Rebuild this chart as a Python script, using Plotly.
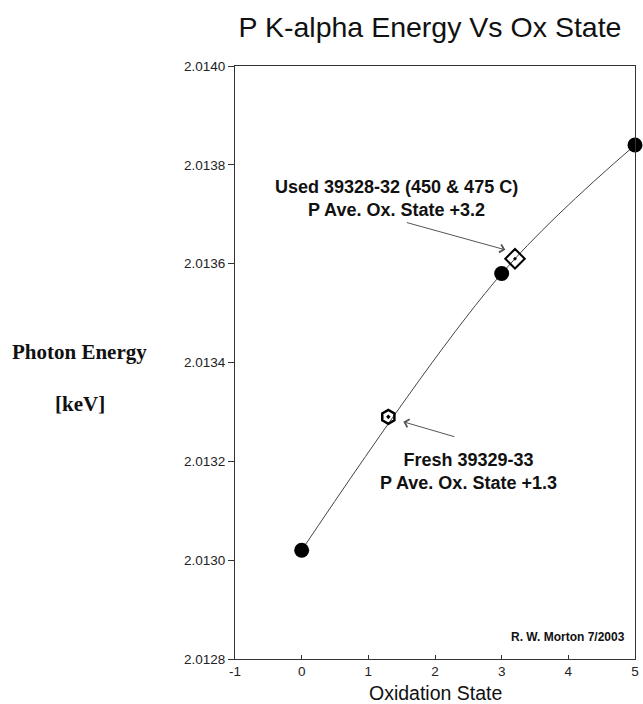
import plotly.graph_objects as go

# Data
ox_states = [0, 3, 5]
energies = [2.01302, 2.01358, 2.01384]
used_ox = [3.2]
used_energy = [2.01361]
fresh_ox = [1.3]
fresh_energy = [2.01329]
x_ticks = [-1, 0, 1, 2, 3, 4, 5]
y_ticks = [2.0128, 2.0130, 2.0132, 2.0134, 2.0136, 2.0138, 2.0140]

fig = go.Figure()
fig.add_trace(go.Scatter(x=ox_states, y=energies, mode="lines",
                         line=dict(color="#444", width=1, shape="spline", smoothing=1.0),
                         hoverinfo="skip", showlegend=False, cliponaxis=False))
fig.add_trace(go.Scatter(x=ox_states, y=energies, mode="markers",
                         marker=dict(symbol="circle", size=15, color="black"),
                         showlegend=False, cliponaxis=False))
fig.add_trace(go.Scatter(x=used_ox, y=used_energy, mode="markers",
                         marker=dict(symbol="diamond-open-dot", size=15, color="black",
                                     line=dict(width=2, color="black")),
                         showlegend=False))
fig.add_trace(go.Scatter(x=fresh_ox, y=fresh_energy, mode="markers",
                         marker=dict(symbol="hexagon-open-dot", size=14, color="black",
                                     line=dict(width=2.5, color="black")),
                         showlegend=False))

SANS = "Liberation Sans, Arial"
SERIF = "Liberation Serif, Times New Roman"
ann = []
# arrows
ann.append(dict(x=3.055, y=2.013628, ax=1.555, ay=2.013684, xref="x", yref="y",
                axref="x", ayref="y", text="", showarrow=True, arrowhead=4,
                arrowsize=1.6, arrowwidth=1, arrowcolor="#555"))
ann.append(dict(x=1.525, y=2.013280, ax=2.312, ay=2.013249, xref="x", yref="y",
                axref="x", ayref="y", text="", showarrow=True, arrowhead=4,
                arrowsize=1.6, arrowwidth=1, arrowcolor="#555"))
ann.append(dict(x=398, y=199, xref="paper", yref="paper", showarrow=False,
                text="<b>Used 39328-32 (450 &amp; 475 C)<br>P Ave. Ox. State +3.2</b>",
                font=dict(family=SANS, size=18, color="#111"), align="center"))
ann.append(dict(x=471, y=471, xref="paper", yref="paper", showarrow=False,
                text="<b>Fresh 39329-33<br>P Ave. Ox. State +1.3</b>",
                font=dict(family=SANS, size=18, color="#111"), align="center"))
ann.append(dict(x=571, y=637, xref="paper", yref="paper", showarrow=False,
                text="<b>R. W. Morton 7/2003</b>",
                font=dict(family=SANS, size=12, color="#111")))
ann.append(dict(x=78, y=352, xref="paper", yref="paper", showarrow=False,
                text="<b>Photon Energy</b>",
                font=dict(family=SERIF, size=21, color="#111")))
ann.append(dict(x=78, y=404, xref="paper", yref="paper", showarrow=False,
                text="<b>[keV]</b>",
                font=dict(family=SERIF, size=21, color="#111")))
ann.append(dict(x=437, y=693, xref="paper", yref="paper", showarrow=False,
                text="Oxidation State",
                font=dict(family=SANS, size=19.5, color="#111")))

# convert pixel coords (from top-left) to paper fractions
W, H = 643, 704
L, R, T, B = 235, 4, 66, 45
pw, ph = W - L - R, H - T - B
for a in ann:
    if a["xref"] == "paper":
        a["x"] = (a["x"] - L) / pw
        a["y"] = ((H - a["y"]) - B) / ph
        a["xanchor"] = "center"
        a["yanchor"] = "middle"

fig.update_layout(
    width=W, height=H,
    margin=dict(l=L, r=R, t=T, b=B),
    paper_bgcolor="white", plot_bgcolor="white",
    title=dict(text="P K-alpha Energy Vs Ox State", x=430 / W, xanchor="center",
               y=1 - 27 / H, yanchor="middle",
               font=dict(family=SANS, size=28.5, color="#111")),
    annotations=ann,
    xaxis=dict(range=[-1, 5], tickvals=x_ticks, ticktext=[str(v) for v in x_ticks],
               showgrid=False, zeroline=False, showline=True, linecolor="#333",
               linewidth=1, mirror=True, ticks="inside", ticklen=4, tickcolor="#333",
               tickfont=dict(family=SANS, size=13.5, color="#222")),
    yaxis=dict(range=[2.0128, 2.0140], tickvals=y_ticks,
               ticktext=[f"{v:.4f}" for v in y_ticks],
               showgrid=False, zeroline=False, showline=True, linecolor="#333",
               linewidth=1, mirror=True, ticks="outside", ticklen=6, tickcolor="#333",
               tickfont=dict(family=SANS, size=13.5, color="#222")),
)

fig.write_html("out.html", config={"displayModeBar": False},
               post_script="document.body.style.margin='0';document.body.style.overflow='hidden';")
